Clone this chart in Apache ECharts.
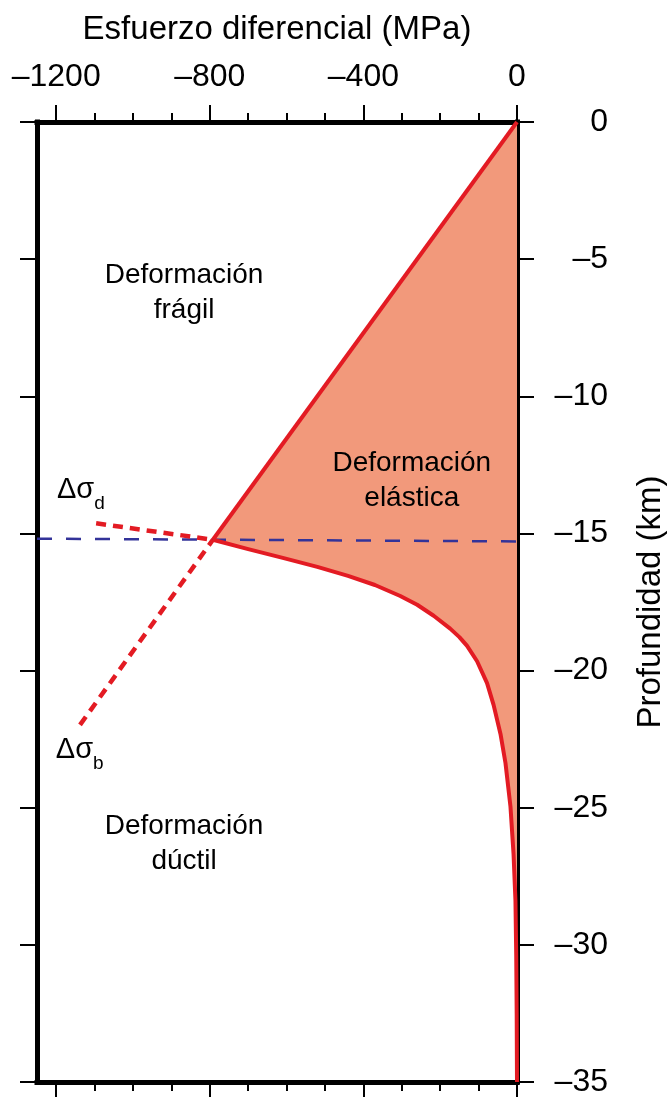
<!DOCTYPE html>
<html>
<head>
<meta charset="utf-8">
<script src="https://cdn.jsdelivr.net/npm/echarts@6.0.0/dist/echarts.min.js"></script>
<style>
  html, body { margin: 0; padding: 0; background: #fff; }
  #chart { width: 668px; height: 1097px; }
</style>
</head>
<body>
<div id="chart"></div>
<script>
// Axis ticks (MPa on x, km on y)
const xMajorTicks = [-1200, -800, -400, 0];
const xMinorTicks = [-1200, -1100, -1000, -900, -800, -700, -600, -500, -400, -300, -200, -100, 0];

// Brittle (frictional) strength line, surface down to the transition
const brittleX = [0, -792];
const brittleY = [0, -15.23];

// Ductile (creep) strength curve, transition down to 35 km
const ductileX = [-792, -700, -610, -520, -440, -370, -304, -260, -217, -174, -150, -130, -104, -78, -61, -43, -30, -17, -9, -4, -2, -0.8, 0];
const ductileY = [-15.23, -15.57, -15.89, -16.22, -16.55, -16.88, -17.28, -17.6, -18.0, -18.47, -18.78, -19.1, -19.66, -20.46, -21.25, -22.31, -23.37, -24.96, -26.68, -28.4, -30.4, -32.5, -35];

// Brittle-ductile transition depth (dashed)
const transitionX = [-1250, 0];
const transitionY = [-15.19, -15.29];

// Extrapolated branches (dotted)
const dSigmaDX = [-1096, -792];
const dSigmaDY = [-14.63, -15.23];
const dSigmaBX = [-1138, -792];
const dSigmaBY = [-21.98, -15.23];

// Region labels
const noteText = ['Deformación\nfrágil', 'Deformación\nelástica', 'Deformación\ndúctil'];
const noteX = [-867, -274, -867];
const noteY = [-6.23, -13.07, -26.31];

// Delta sigma labels
const sigmaText = ['{a|Δσ}{s|d}', '{a|Δσ}{s|b}'];
const sigmaX = [-1198, -1201];
const sigmaY = [-13.42, -22.9];

const FONT = "'Liberation Sans', Arial, sans-serif";
const RED = '#E31B23';

const zip = (xs, ys) => xs.map((x, i) => [x, ys[i]]);
const minusFmt = (v) => String(v).replace('-', '\u2013');

const chart = echarts.init(document.getElementById('chart'));

const frameLine = { show: true, onZero: false, lineStyle: { color: '#000', width: 5, cap: 'square' } };
const tickStyle = { color: '#000', width: 2 };

const xBase = { type: 'value', min: -1250, max: 0, splitLine: { show: false } };
const yBase = { type: 'value', min: -35, max: 0, interval: 5, splitLine: { show: false } };

// polygon between brittle line and ductile curve
const fillPts = zip(brittleX, brittleY).concat(zip(ductileX, ductileY).slice(1));

const option = {
  animation: false,
  textStyle: { fontFamily: FONT },
  grid: { left: 37, top: 122, width: 480, height: 960, containLabel: false, outerBoundsMode: 'none' },
  xAxis: [
    Object.assign({}, xBase, {
      position: 'top',
      axisLine: frameLine,
      axisTick: { customValues: xMajorTicks, length: 17, lineStyle: tickStyle },
      axisLabel: { customValues: xMajorTicks, formatter: minusFmt, fontSize: 32, color: '#000', margin: 29, fontFamily: FONT },
      name: 'Esfuerzo diferencial (MPa)',
      nameLocation: 'middle',
      nameGap: 76,
      nameTextStyle: { fontSize: 33, color: '#000', fontFamily: FONT }
    }),
    Object.assign({}, xBase, {
      position: 'top',
      axisLine: { show: false, onZero: false },
      axisTick: { customValues: xMinorTicks, length: 9, lineStyle: tickStyle },
      axisLabel: { show: false }
    }),
    Object.assign({}, xBase, {
      position: 'bottom',
      axisLine: frameLine,
      axisTick: { customValues: xMajorTicks, length: 17, lineStyle: tickStyle },
      axisLabel: { show: false }
    }),
    Object.assign({}, xBase, {
      position: 'bottom',
      axisLine: { show: false, onZero: false },
      axisTick: { customValues: xMinorTicks, length: 9, lineStyle: tickStyle },
      axisLabel: { show: false }
    })
  ],
  yAxis: [
    Object.assign({}, yBase, {
      position: 'left',
      axisLine: frameLine,
      axisTick: { length: 17, lineStyle: tickStyle },
      axisLabel: { show: false }
    }),
    Object.assign({}, yBase, {
      position: 'right',
      axisLine: frameLine,
      axisTick: { length: 17, lineStyle: tickStyle },
      axisLabel: { formatter: minusFmt, fontSize: 32, color: '#000', margin: 91, align: 'right', fontFamily: FONT },
      name: 'Profundidad (km)',
      nameLocation: 'middle',
      nameRotate: 90,
      nameGap: 117,
      nameTextStyle: { fontSize: 33, color: '#000', fontFamily: FONT }
    })
  ],
  series: [
    {
      name: 'elastic',
      type: 'custom',
      xAxisIndex: 0,
      yAxisIndex: 0,
      data: [fillPts[0]],
      silent: true,
      z: 1,
      renderItem: (params, api) => ({
        type: 'polygon',
        shape: { points: fillPts.map((p) => api.coord(p)) },
        style: { fill: '#F2997B', stroke: null }
      })
    },
    {
      name: 'transition',
      type: 'line',
      data: zip(transitionX, transitionY),
      symbol: 'none',
      z: 3,
      lineStyle: { color: '#333399', width: 2.5, type: [15, 14] }
    },
    {
      name: 'dsigma_d',
      type: 'line',
      data: zip(dSigmaDX, dSigmaDY),
      symbol: 'none',
      z: 4,
      lineStyle: { color: RED, width: 4.5, type: [10, 7] }
    },
    {
      name: 'dsigma_b',
      type: 'line',
      data: zip(dSigmaBX, dSigmaBY),
      symbol: 'none',
      z: 4,
      lineStyle: { color: RED, width: 4.5, type: [10, 7] }
    },
    {
      name: 'brittle',
      type: 'line',
      data: zip(brittleX, brittleY),
      symbol: 'none',
      z: 5,
      lineStyle: { color: RED, width: 4 }
    },
    {
      name: 'ductile',
      type: 'line',
      data: zip(ductileX, ductileY),
      symbol: 'none',
      z: 5,
      lineStyle: { color: RED, width: 4, join: 'round' }
    },
    {
      name: 'notes',
      type: 'scatter',
      symbolSize: 0,
      z: 6,
      silent: true,
      itemStyle: { opacity: 1 },
      data: noteText.map((t, i) => ({ value: [noteX[i], noteY[i]], name: t })),
      label: {
        show: true,
        position: 'inside',
        formatter: (p) => p.name,
        fontSize: 28,
        lineHeight: 35,
        color: '#000',
        align: 'center',
        fontFamily: FONT
      }
    },
    {
      name: 'sigmas',
      type: 'scatter',
      symbolSize: 0,
      z: 6,
      silent: true,
      itemStyle: { opacity: 1 },
      data: sigmaText.map((t, i) => ({ value: [sigmaX[i], sigmaY[i]], name: t })),
      label: {
        show: true,
        position: 'right',
        distance: 0,
        formatter: (p) => p.name,
        color: '#000',
        fontFamily: FONT,
        rich: {
          a: { fontSize: 29, lineHeight: 46, color: '#000', fontFamily: FONT },
          s: { fontSize: 19, lineHeight: 19, verticalAlign: 'bottom', color: '#000', fontFamily: FONT }
        }
      }
    }
  ]
};

chart.setOption(option);
</script>
</body>
</html>
